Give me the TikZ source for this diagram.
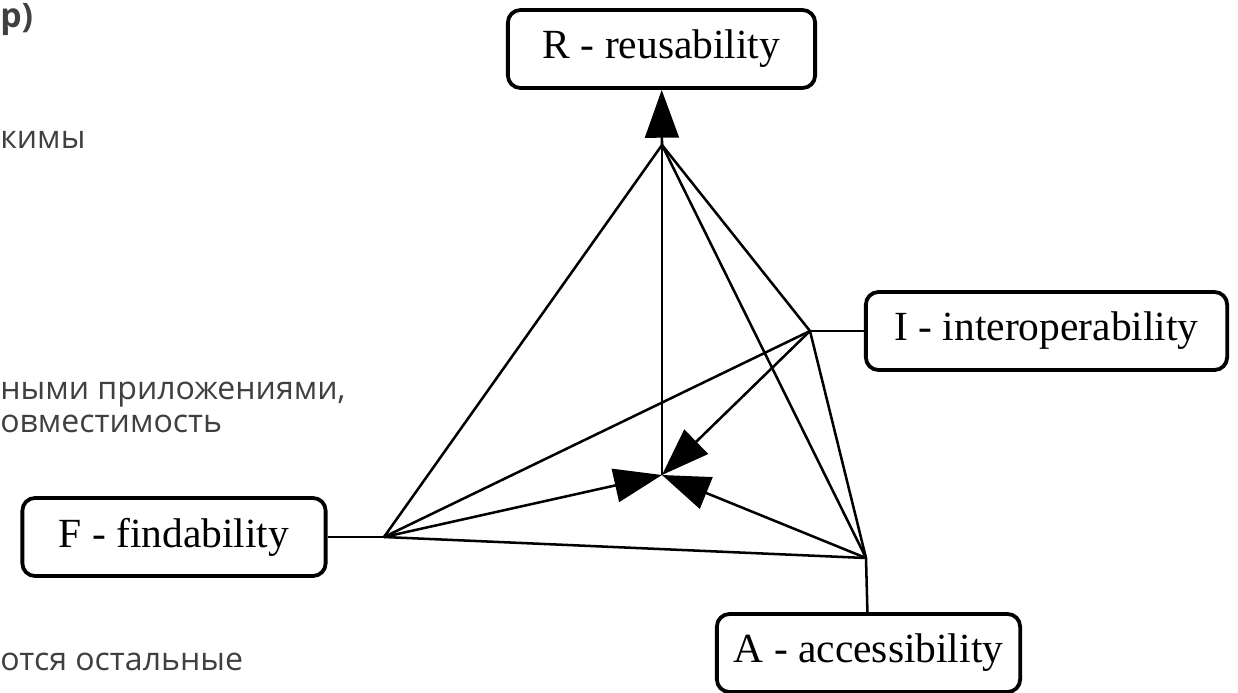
\documentclass[tikz,border=0pt]{standalone}
\usepackage{fontspec}
\setmainfont{Liberation Serif}
\newfontfamily\slidefont{Open Sans}
\usetikzlibrary{arrows.meta}
\definecolor{slidegray}{HTML}{404040}
\begin{document}
\begin{tikzpicture}[x=0.025cm,y=-0.025cm,
  box/.style={draw, line width=2.7pt, rounded corners=9pt, inner sep=0pt,
    minimum height=1.95cm, font=\fontsize{29.5}{34}\selectfont},
  edge/.style={line width=1.8pt},
  arr/.style={edge, -{Triangle[length=34pt,width=24pt]}},
  slide/.style={anchor=base west, inner sep=0pt, text=slidegray,
    font=\slidefont\fontsize{22.8}{27}\selectfont}]
\clip (0,0) rectangle (1238,692);
\node[slide, font=\slidefont\bfseries\fontsize{24}{29}\selectfont] (t1) at (0,27) {р)};
\node[slide] (t2) at (0,148) {кимы};
\node[slide] (t3) at (0,399) {ными приложениями,};
\node[slide] (t4) at (0,432) {овместимость};
\node[slide] (t5) at (0,670) {отся остальные};
\node[box, minimum width=7.68cm] (rbox) at (661.5,49) {R - reusability};
\node[box, minimum width=9.03cm] (ibox) at (1046.5,331) {I - interoperability};
\node[box, minimum width=7.58cm] (fbox) at (174,537) {F - findability};
\node[box, minimum width=7.58cm] (abox) at (868.5,653) {A - accessibility};
\coordinate (vr) at (662,145);
\coordinate (vi) at (810,331);
\coordinate (vf) at (384,537);
\coordinate (va) at (866,558);
\coordinate (ctr) at (662,475);
\draw[arr] (vr) -- (rbox);
\draw[edge] (vi) -- (ibox);
\draw[edge] (fbox) -- (vf);
\draw[edge] (va) -- (abox);
\draw[edge] (vr) -- (vf);
\draw[edge] (vr) -- (vi);
\draw[edge] (vr) -- (va);
\draw[edge] (vi) -- (vf);
\draw[edge] (vi) -- (va);
\draw[edge] (vf) -- (va);
\draw[edge] (vr) -- (ctr);
\draw[arr] (vf) -- (ctr);
\draw[arr] (vi) -- (ctr);
\draw[arr] (va) -- (ctr);
\end{tikzpicture}
\end{document}
